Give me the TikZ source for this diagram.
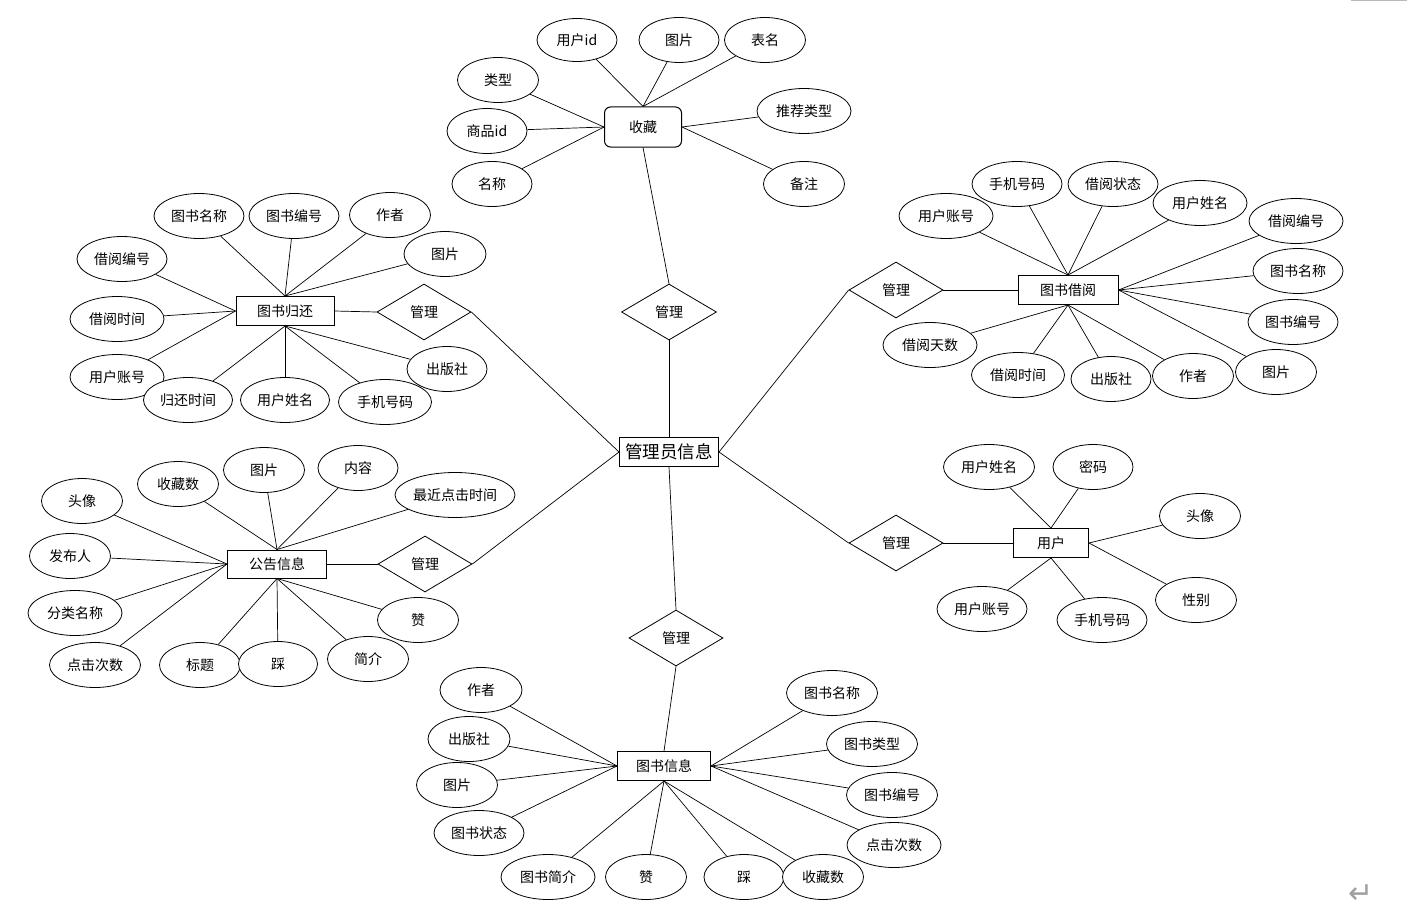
\documentclass[tikz,border=0pt]{standalone}
\usepackage{fontspec}
\setmainfont{Noto Sans CJK SC}
\newfontfamily\symfont{DejaVu Sans}
\usetikzlibrary{shapes.geometric}
\pgfdeclarelayer{bg}
\pgfsetlayers{bg,main}
\begin{document}
\begin{tikzpicture}[x=1pt,y=-1pt,
  txt/.style={font=\fontsize{14}{16}\selectfont},
  attr/.style={ellipse,draw,fill=white,line width=0.8pt,minimum height=45,inner sep=0pt,txt},
  ent/.style={rectangle,draw,fill=white,line width=1pt,minimum height=29,inner sep=0pt,txt},
  rel/.style={diamond,draw,fill=white,line width=0.8pt,minimum width=94,minimum height=56,aspect=1.68,inner sep=0pt,txt},
  conn/.style={line width=0.7pt}]
\useasboundingbox (0,0) rectangle (1415,923);

% central
\node[ent,minimum width=99,font=\fontsize{17.5}{19}\selectfont] (m) at (669,452) {管理员信息};

% ---------- 收藏 ----------
\node[ent,rounded corners=6pt,minimum width=77,minimum height=40] (sc) at (643,127) {收藏};
\node[attr,minimum width=80,minimum height=43] (sc1) at (577,40) {用户id};
\node[attr,minimum width=80] (sc2) at (679,40) {图片};
\node[attr,minimum width=81] (sc3) at (765,40) {表名};
\node[attr,minimum width=81] (sc4) at (498,80) {类型};
\node[attr,minimum width=80] (sc5) at (487,131) {商品id};
\node[attr,minimum width=80] (sc6) at (492,184) {名称};
\node[attr,minimum width=94] (sc7) at (804,111) {推荐类型};
\node[attr,minimum width=81] (sc8) at (804,184) {备注};
\node[rel,minimum width=95] (r1) at (669,312) {管理};

% ---------- 图书归还 ----------
\node[ent,minimum width=98] (gh) at (285,311) {图书归还};
\node[rel] (r2) at (424,312) {管理};
\node[attr,minimum width=90] (gh1) at (199,216) {图书名称};
\node[attr,minimum width=90] (gh2) at (294,216) {图书编号};
\node[attr,minimum width=81] (gh3) at (390,215) {作者};
\node[attr,minimum width=82] (gh4) at (445,254) {图片};
\node[attr,minimum width=90] (gh5) at (122,259) {借阅编号};
\node[attr,minimum width=94] (gh6) at (117,319) {借阅时间};
\node[attr,minimum width=94] (gh7) at (117,377) {用户账号};
\node[attr,minimum width=89] (gh8) at (188,400) {归还时间};
\node[attr,minimum width=89] (gh9) at (285,400) {用户姓名};
\node[attr,minimum width=93] (gh10) at (385,402) {手机号码};
\node[attr,minimum width=80] (gh11) at (447,369) {出版社};

% ---------- 图书借阅 ----------
\node[ent,minimum width=100] (jy) at (1068,290) {图书借阅};
\node[rel] (r3) at (896,290) {管理};
\node[attr,minimum width=94] (jy1) at (946,216) {用户账号};
\node[attr,minimum width=90] (jy2) at (1017,184) {手机号码};
\node[attr,minimum width=90] (jy3) at (1113,184) {借阅状态};
\node[attr,minimum width=94] (jy4) at (1200,203) {用户姓名};
\node[attr,minimum width=94] (jy5) at (1296,221) {借阅编号};
\node[attr,minimum width=90] (jy6) at (1298,271) {图书名称};
\node[attr,minimum width=90] (jy7) at (1293,322) {图书编号};
\node[attr,minimum width=81] (jy8) at (1276,372) {图片};
\node[attr,minimum width=94] (jy9) at (930,345) {借阅天数};
\node[attr,minimum width=93] (jy10) at (1018,375) {借阅时间};
\node[attr,minimum width=80] (jy11) at (1111,379) {出版社};
\node[attr,minimum width=81] (jy12) at (1193,376) {作者};

% ---------- 公告信息 ----------
\node[ent,minimum width=99,minimum height=28] (gg) at (277,564) {公告信息};
\node[rel] (r4) at (425,564) {管理};
\node[attr,minimum width=81] (gg1) at (178,484) {收藏数};
\node[attr,minimum width=81] (gg2) at (264,470) {图片};
\node[attr,minimum width=80] (gg3) at (358,468) {内容};
\node[attr,minimum width=120] (gg4) at (455,495) {最近点击时间};
\node[attr,minimum width=81] (gg5) at (82,501) {头像};
\node[attr,minimum width=81] (gg6) at (70,556) {发布人};
\node[attr,minimum width=94] (gg7) at (75,613) {分类名称};
\node[attr,minimum width=91] (gg8) at (95,665) {点击次数};
\node[attr,minimum width=81] (gg9) at (200,665) {标题};
\node[attr,minimum width=79] (gg10) at (278,664) {踩};
\node[attr,minimum width=81] (gg11) at (368,659) {简介};
\node[attr,minimum width=81] (gg12) at (418,620) {赞};

% ---------- 用户 ----------
\node[ent,minimum width=75] (yh) at (1051,543) {用户};
\node[rel] (r5) at (896,543) {管理};
\node[attr,minimum width=91] (yh1) at (989,467) {用户姓名};
\node[attr,minimum width=80] (yh2) at (1093,467) {密码};
\node[attr,minimum width=81] (yh3) at (1200,516) {头像};
\node[attr,minimum width=81] (yh4) at (1196,600) {性别};
\node[attr,minimum width=90] (yh5) at (982,609) {用户账号};
\node[attr,minimum width=90] (yh6) at (1102,620) {手机号码};

% ---------- 图书信息 ----------
\node[ent,minimum width=93] (ts) at (664,766) {图书信息};
\node[rel] (r6) at (676,638) {管理};
\node[attr,minimum width=82] (ts1) at (481,690) {作者};
\node[attr,minimum width=82] (ts2) at (469,739) {出版社};
\node[attr,minimum width=81] (ts3) at (457,785) {图片};
\node[attr,minimum width=90] (ts4) at (479,833) {图书状态};
\node[attr,minimum width=91] (ts5) at (832,693) {图书名称};
\node[attr,minimum width=91] (ts6) at (872,744) {图书类型};
\node[attr,minimum width=91] (ts7) at (892,795) {图书编号};
\node[attr,minimum width=94] (ts8) at (894,845) {点击次数};
\node[attr,minimum width=94] (ts9) at (548,877) {图书简介};
\node[attr,minimum width=81] (ts10) at (646,877) {赞};
\node[attr,minimum width=80] (ts11) at (744,877) {踩};
\node[attr,minimum width=81] (ts12) at (823,877) {收藏数};

% word-processor marks
\node[text=gray!75,font=\symfont\fontsize{30}{30}\selectfont,inner sep=0pt] (ret) at (1361,894) {↵};
\draw[gray!55,line width=1.5pt] (1351,0.75) -- (1407,0.75);

\begin{pgfonlayer}{bg}
\fill[white] (0,0) rectangle (1415,923);
\foreach \a in {sc1,sc2,sc3} \draw[conn] (sc.north) -- (\a);
\foreach \a in {sc4,sc5,sc6} \draw[conn] (sc.west) -- (\a);
\foreach \a in {sc7,sc8} \draw[conn] (sc.east) -- (\a);
\draw[conn] (sc.south) -- (r1.north);
\draw[conn] (r1.south) -- (m.north);

\foreach \a in {gh1,gh2,gh3,gh4} \draw[conn] (gh.north) -- (\a);
\foreach \a in {gh5,gh6,gh7} \draw[conn] (gh.west) -- (\a);
\foreach \a in {gh8,gh9,gh10,gh11} \draw[conn] (gh.south) -- (\a);
\draw[conn] (gh.east) -- (r2.west);
\draw[conn] (r2.east) -- (m.west);

\foreach \a in {jy1,jy2,jy3,jy4} \draw[conn] (jy.north) -- (\a);
\foreach \a in {jy5,jy6,jy7,jy8} \draw[conn] (jy.east) -- (\a);
\foreach \a in {jy9,jy10,jy11,jy12} \draw[conn] (jy.south) -- (\a);
\draw[conn] (r3.east) -- (jy.west);
\draw[conn] (m.east) -- (r3.west);

\foreach \a in {gg1,gg2,gg3,gg4} \draw[conn] (gg.north) -- (\a);
\foreach \a in {gg5,gg6,gg7,gg8} \draw[conn] (gg.west) -- (\a);
\foreach \a in {gg9,gg10,gg11,gg12} \draw[conn] (gg.south) -- (\a);
\draw[conn] (gg.east) -- (r4.west);
\draw[conn] (r4.east) -- (m.west);

\foreach \a in {yh1,yh2} \draw[conn] (yh.north) -- (\a);
\foreach \a in {yh3,yh4} \draw[conn] (yh.east) -- (\a);
\foreach \a in {yh5,yh6} \draw[conn] (yh.south) -- (\a);
\draw[conn] (m.east) -- (r5.west);
\draw[conn] (r5.east) -- (yh.west);

\foreach \a in {ts1,ts2,ts3,ts4} \draw[conn] (ts.west) -- (\a);
\foreach \a in {ts5,ts6,ts7,ts8} \draw[conn] (ts.east) -- (\a);
\foreach \a in {ts9,ts10,ts11,ts12} \draw[conn] (ts.south) -- (\a);
\draw[conn] (m.south) -- (r6.north);
\draw[conn] (r6.south) -- (ts.north);
\end{pgfonlayer}
\end{tikzpicture}
\end{document}
